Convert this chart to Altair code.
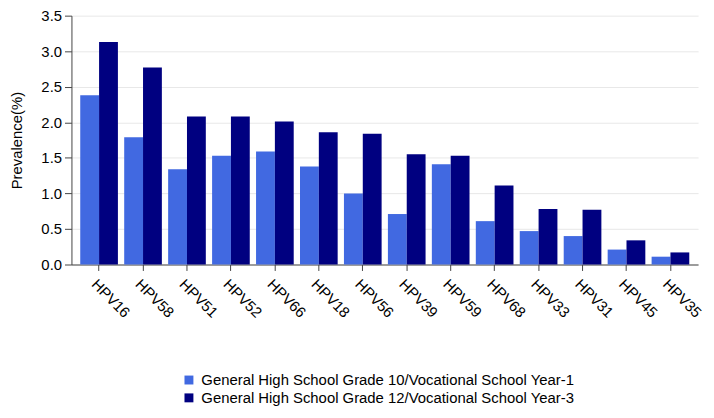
import altair as alt
import pandas as pd

types = ["HPV16", "HPV58", "HPV51", "HPV52", "HPV66", "HPV18", "HPV56",
         "HPV39", "HPV59", "HPV68", "HPV33", "HPV31", "HPV45", "HPV35"]
grade10 = [2.38, 1.79, 1.34, 1.53, 1.59, 1.38, 1.00, 0.71, 1.41, 0.61, 0.47, 0.40, 0.21, 0.11]
grade12 = [3.13, 2.77, 2.08, 2.08, 2.01, 1.86, 1.84, 1.55, 1.53, 1.11, 0.78, 0.77, 0.34, 0.17]
groups = ["General High School Grade 10/Vocational School Year-1",
          "General High School Grade 12/Vocational School Year-3"]
colors = ["#4169E1", "#000080"]

rows = []
for t, a, b in zip(types, grade10, grade12):
    rows.append({"type": t, "group": groups[0], "value": a})
    rows.append({"type": t, "group": groups[1], "value": b})
df = pd.DataFrame(rows)

FONT = "Liberation Sans"

chart = alt.Chart(df).mark_bar().encode(
    x=alt.X("type:N", sort=types, title=None,
            scale=alt.Scale(paddingInner=0.143, paddingOuter=0.2),
            axis=alt.Axis(labelAngle=45, labelAlign="left", labelBaseline="top",
                          labelFontSize=15, labelColor="#000", labelFont=FONT,
                          tickSize=6, tickColor="#444", domainColor="#444",
                          labelPadding=6, grid=False)),
    xOffset=alt.XOffset("group:N", sort=groups),
    y=alt.Y("value:Q", title="Prevalence(%)",
            scale=alt.Scale(domain=[0, 3.5], nice=False),
            axis=alt.Axis(values=[0, 0.5, 1, 1.5, 2, 2.5, 3, 3.5], format=".1f",
                          labelFontSize=15, labelColor="#000", labelFont=FONT,
                          titleFontSize=15, titleFont=FONT, titleFontWeight="normal",
                          titleColor="#000", titlePadding=17,
                          tickSize=7, tickColor="#444", domainColor="#444",
                          gridColor="#e8e8e8", labelPadding=3)),
    color=alt.Color("group:N", sort=groups,
                    scale=alt.Scale(domain=groups, range=colors),
                    legend=alt.Legend(title=None, orient="none", legendX=111, legendY=360,
                                      direction="vertical", symbolType="square",
                                      symbolSize=81, symbolStrokeWidth=0,
                                      labelFontSize=15, labelFont=FONT, labelColor="#000",
                                      labelOffset=5, rowPadding=2, labelLimit=600)),
).properties(
    width=632, height=251,
    autosize=alt.AutoSizeParams(type="none"),
    padding={"left": 64, "top": 6, "right": 8, "bottom": 143},
).configure_view(stroke=None)

chart.save("out.html", embed_options={"renderer": "svg", "actions": False})
